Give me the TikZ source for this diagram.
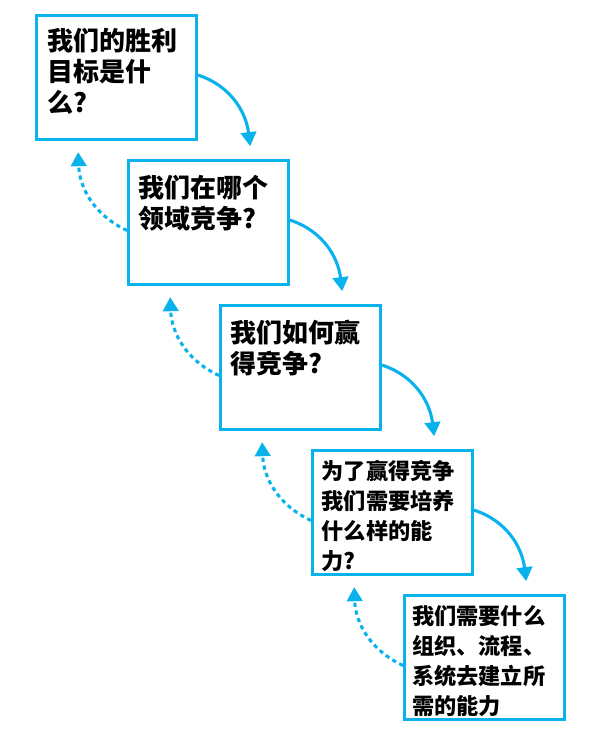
\documentclass[tikz,border=0pt]{standalone}
\usepackage{fontspec}
\newfontfamily\cjk{Noto Sans CJK SC}
\usetikzlibrary{positioning,arrows.meta,calc}
\definecolor{skyblue}{RGB}{10,178,236}

\begin{document}
\begin{tikzpicture}[x=1cm,y=1cm,
  card/.style={draw=skyblue,line width=2.1pt,fill=white,minimum width=4cm,minimum height=3.1cm,anchor=north west,inner sep=0pt},
  ask/.style={anchor=north west,align=left,inner sep=0pt,font=\cjk\bfseries\fontsize{18.5}{22}\selectfont},
  asksm/.style={ask,font=\cjk\bfseries\fontsize{15.8}{21.3}\selectfont},
  fwd/.style={-{Triangle[length=10pt,width=11pt]},draw=skyblue,line width=2.2pt},
  back/.style={fwd,dash pattern=on 3pt off 2.6pt}]

\useasboundingbox (0,0) rectangle (15,-18.75);

% the five questions, stepping down to the right
\node[card] (b1) at (0.875,-0.35) {};
\node[card] (b2) at (3.175,-3.975) {};
\node[card] (b3) at (5.475,-7.6) {};
\node[card] (b4) at (7.775,-11.225) {};
\node[card] (b5) at (10.075,-14.85) {};

\node[ask] (t1) at ($(b1.north west)+(0.3,-0.36)$) {我们的胜利\\目标是什\\么?};
\node[ask] (t2) at ($(b2.north west)+(0.28,-0.4)$) {我们在哪个\\领域竞争?};
\node[ask] (t3) at ($(b3.north west)+(0.28,-0.4)$) {我们如何赢\\得竞争?};
\node[asksm] (t4) at ($(b4.north west)+(0.26,-0.275)$) {为了赢得竞争\\我们需要培养\\什么样的能\\力?};
\node[asksm] (t5) at ($(b5.north west)+(0.22,-0.275)$) {我们需要什么\\组织、流程、\\系统去建立所\\需的能力};

% forward and feedback arrows
\foreach \a/\b in {b1/b2,b2/b3,b3/b4,b4/b5} {
  \coordinate (\b-in) at ($(\b.north west)+(3.08,0.32)$);
  \draw[fwd] ($(\a.east)+(0,0.06)$) to[out=-18,in=97] (\b-in);
  \coordinate (\a-up) at ($(\a.south west)+(1.08,-0.28)$);
  \draw[back] ($(\b.west)+(0,-0.2)$) to[out=155,in=-88] (\a-up);
}
\end{tikzpicture}
\end{document}
